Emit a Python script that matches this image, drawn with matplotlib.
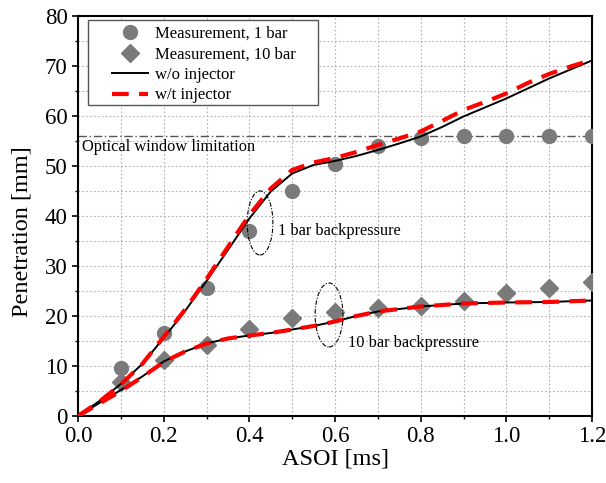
import matplotlib
matplotlib.use("Agg")
import matplotlib.pyplot as plt
from matplotlib.patches import Ellipse, Rectangle
from matplotlib.ticker import MultipleLocator, FormatStrFormatter

plt.rcParams['font.family'] = ['Liberation Serif', 'DejaVu Serif']

# Measurements
t_meas = [0.1, 0.2, 0.3, 0.4, 0.5, 0.6, 0.7, 0.8, 0.9, 1.0, 1.1, 1.2]
meas_1bar = [9.5, 16.5, 25.6, 37.0, 45.0, 50.3, 54.0, 55.5, 56.0, 56.0, 56.0, 56.0]
meas_10bar = [6.8, 11.2, 14.2, 17.3, 19.5, 20.8, 21.5, 22.0, 23.0, 24.5, 25.5, 26.7]

# Simulations
t_sim = [0.0, 0.05, 0.1, 0.15, 0.2, 0.25, 0.3, 0.35, 0.4, 0.45, 0.5, 0.55, 0.6,
         0.65, 0.7, 0.75, 0.8, 0.85, 0.9, 0.95, 1.0, 1.05, 1.1, 1.15, 1.2]
wo_1bar = [0.0, 3.0, 6.4, 10.4, 15.6, 21.0, 27.0, 33.2, 39.5, 44.9, 48.5, 50.2, 51.0,
           52.0, 53.2, 54.5, 55.9, 57.8, 59.9, 61.7, 63.5, 65.5, 67.5, 69.3, 71.1]
wt_1bar = [0.0, 2.9, 6.3, 10.4, 15.8, 21.3, 27.4, 33.8, 40.2, 45.5, 49.2, 50.7, 51.6,
           52.8, 54.2, 55.5, 56.9, 59.0, 61.2, 62.8, 64.5, 66.6, 68.4, 69.9, 71.2]
wo_10bar = [0.0, 2.6, 5.2, 7.9, 10.9, 12.9, 14.5, 15.5, 16.1, 16.6, 17.3, 18.0, 18.9,
            20.0, 20.9, 21.4, 21.9, 22.2, 22.5, 22.6, 22.7, 22.75, 22.8, 22.95, 23.1]
wt_10bar = [0.0, 2.5, 5.0, 7.8, 10.8, 12.9, 14.5, 15.5, 16.1, 16.6, 17.3, 18.0, 18.9,
            20.0, 20.9, 21.4, 21.9, 22.2, 22.5, 22.6, 22.7, 22.75, 22.8, 22.95, 23.1]

window_limit = 56.0

fig = plt.figure(figsize=(6.06, 4.83), dpi=100)
ax = fig.add_axes([0.1287, 0.1387, 0.977 - 0.1287, 0.967 - 0.1387])

gray = '#7a7a7a'
ax.plot(t_meas, meas_1bar, 'o', color=gray, markersize=10, label='Measurement, 1 bar', zorder=3)
ax.plot(t_meas, meas_10bar, 'D', color=gray, markersize=9.5, label='Measurement, 10 bar', zorder=3)
ax.plot(t_sim, wo_1bar, '-', color='black', lw=1.4, label='w/o injector', zorder=4)
ax.plot(t_sim, wt_1bar, '--', color='red', lw=3, dashes=(4, 2.5), label='w/t injector', zorder=5)
ax.plot(t_sim, wo_10bar, '-', color='black', lw=1.4, zorder=4)
ax.plot(t_sim, wt_10bar, '--', color='red', lw=3, dashes=(4, 2.5), zorder=5)

ax.axhline(window_limit, color='#555555', lw=1.0, ls=(0, (6, 2, 1, 2)), zorder=2)
ax.text(0.01, 53.8, 'Optical window limitation', fontsize=11.8, va='center', ha='left')

ax.add_patch(Ellipse((0.425, 38.6), 0.06, 12.8, angle=0, fill=False, ec='black',
                     lw=0.8, ls=(0, (4, 1.5, 1, 1.5)), zorder=6))
ax.add_patch(Ellipse((0.586, 20.2), 0.065, 12.8, angle=0, fill=False, ec='black',
                     lw=0.8, ls=(0, (4, 1.5, 1, 1.5)), zorder=6))
ax.text(0.467, 37.0, '1 bar backpressure', fontsize=11.8, va='center', ha='left')
ax.text(0.63, 14.6, '10 bar backpressure', fontsize=11.8, va='center', ha='left')

ax.set_xlim(0, 1.2)
ax.set_ylim(0, 80)
ax.xaxis.set_major_locator(MultipleLocator(0.2))
ax.xaxis.set_minor_locator(MultipleLocator(0.1))
ax.yaxis.set_major_locator(MultipleLocator(10))
ax.yaxis.set_minor_locator(MultipleLocator(5))
ax.xaxis.set_major_formatter(FormatStrFormatter('%.1f'))
ax.grid(True, which='both', color='#b0b0b0', ls=(0, (1.5, 2)), lw=0.8)
ax.set_axisbelow(True)
ax.tick_params(which='major', direction='out', length=4.5, width=1.2, labelsize=16.5, pad=3)
ax.tick_params(which='minor', direction='out', length=2.3, width=1.0)
for s in ax.spines.values():
    s.set_linewidth(1.5)

ax.set_xlabel('ASOI [ms]', fontsize=17.5, labelpad=1)
ax.set_ylabel('Penetration [mm]', fontsize=17.5)
ax.yaxis.set_label_coords(-0.088, 0.46)

# legend frame
ax.add_patch(Rectangle((0.0195, 0.7775), 0.4475, 0.2125, transform=ax.transAxes,
                       facecolor='white', edgecolor='#555555', lw=1.0, zorder=6.5))
leg = ax.legend(loc='upper left', fontsize=12, frameon=False, borderpad=0,
                borderaxespad=0, handlelength=2.15, handletextpad=0.42,
                labelspacing=0.27, bbox_to_anchor=(0.066, 0.975))
leg.set_zorder(7)

fig.savefig('out.png', dpi=100)
